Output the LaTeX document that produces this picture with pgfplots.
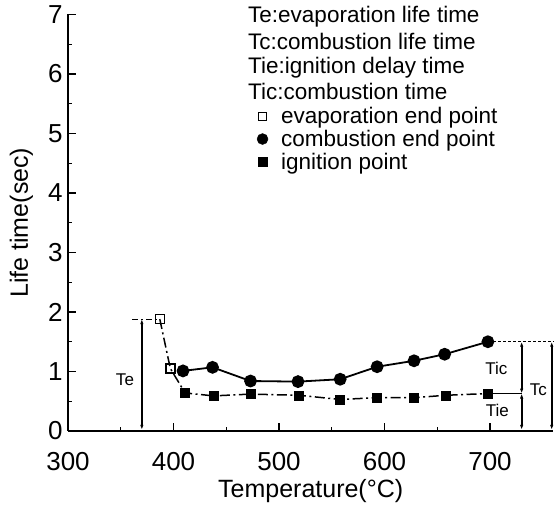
\documentclass[border=0pt]{standalone}
\usepackage{pgfplots}
\pgfplotsset{compat=1.18}
\usepackage{fontspec}
\setmainfont{Liberation Sans}
\usetikzlibrary{arrows.meta}
\begin{document}
\begin{tikzpicture}
\begin{axis}[
 anchor=origin, at={(0,0)},
 x=1.055pt, y=59.5pt,
 xmin=300, xmax=760, ymin=0, ymax=7,
 axis lines=left,
 axis line style={line width=1.8pt, -},
 tick align=inside,
 xtick={300,400,...,700}, ytick={0,1,...,7},
 minor xtick={350,450,550,650},
 minor ytick={0.5,1.5,...,6.5},
 major tick length=8pt, minor tick length=4pt,
 every tick/.style={line width=1.1pt, black},
 /pgf/number format/assume math mode=true,
 ticklabel style={font=\fontsize{26}{26}\selectfont},
 xticklabel style={yshift=-18pt},
 yticklabel style={xshift=-2pt},
 xlabel={Temperature(\textdegree C)},
 ylabel={Life time(sec)},
 label style={font=\fontsize{25}{25}\selectfont},
 xlabel style={yshift=-2pt},
 ylabel style={yshift=8pt},
 clip=false,
 legend style={at={(axis cs:479,5.46)}, anchor=north west, draw=none, fill=none,
   font=\fontsize{22.5}{24}\selectfont, row sep=3pt, inner sep=0pt,
   nodes={inner sep=1pt}},
 legend cell align=left,
 legend image code/.code={\draw[#1] plot coordinates {(0pt,0pt)};},
 /tikz/every odd column/.append style={column sep=12pt},
]
% dash-dot line through evaporation and ignition points
\addplot[forget plot, black, line width=1.5pt, dash pattern=on 10pt off 3.5pt on 2pt off 3.5pt, mark=none]
 coordinates {(387,1.88) (397,1.05) (411,0.64) (438,0.59) (473,0.62) (519,0.60) (558,0.53) (593,0.56) (628,0.56) (658,0.60) (698,0.63)};
% combustion end points
\addplot[forget plot, black, line width=1.8pt, mark=*, mark size=5.5pt]
 coordinates {(409,1.01) (437,1.07) (473,0.84) (518,0.83) (558,0.87) (593,1.08) (628,1.18) (657,1.29) (698,1.50)};
% ignition points
\addplot[forget plot, black, only marks, mark=square*, mark size=4.5pt]
 coordinates {(411,0.64) (438,0.59) (473,0.62) (519,0.60) (558,0.53) (593,0.56) (628,0.56) (658,0.60) (698,0.63)};
% evaporation end points
\addplot[forget plot, black, only marks, mark=square, mark size=4.5pt, line width=1.4pt, mark options={fill=white}]
 coordinates {(387,1.88) (397,1.05)};

\addlegendimage{black, only marks, mark=square, mark size=3.8pt, line width=0.9pt}
\addlegendentry{evaporation end point}
\addlegendimage{black, only marks, mark=*, mark size=5.5pt}
\addlegendentry{combustion end point}
\addlegendimage{black, only marks, mark=square*, mark size=4.8pt}
\addlegendentry{ignition point}

% text block
\begin{scope}[every node/.style={anchor=west, inner sep=0pt, font=\fontsize{22.5}{24}\selectfont}]
\node at (axis cs:470.6,6.96) {Te:evaporation life time};
\node at (axis cs:470.6,6.54) {Tc:combustion life time};
\node at (axis cs:470.6,6.10) {Tie:ignition delay time};
\node at (axis cs:470.6,5.70) {Tic:combustion time};
\end{scope}

% Te annotation
\draw[black, line width=1.2pt, dash pattern=on 6pt off 3pt on 2pt off 3pt] (axis cs:361,1.88) -- (axis cs:384,1.88);
\draw[black, line width=1.7pt, {Latex[length=5pt,width=3.5pt]}-{Latex[length=5pt,width=3.5pt]}] (axis cs:370,0.02) -- (axis cs:370,1.88);
\node[font=\fontsize{17}{17}\selectfont] at (axis cs:354,0.86) {Te};

% right annotations
\draw[black, line width=1pt, dash pattern=on 3pt off 2pt] (axis cs:703,1.5) -- (axis cs:760,1.5);
\draw[black, line width=1pt] (axis cs:703,0.63) -- (axis cs:730,0.63);
\draw[black, line width=1.7pt, {Latex[length=5pt,width=3.5pt]}-{Latex[length=5pt,width=3.5pt]}] (axis cs:730,0.02) -- (axis cs:730,0.63);
\draw[black, line width=1.7pt, {Latex[length=5pt,width=3.5pt]}-{Latex[length=5pt,width=3.5pt]}] (axis cs:730,0.63) -- (axis cs:730,1.5);
\draw[black, line width=1.7pt, {Latex[length=5pt,width=3.5pt]}-{Latex[length=5pt,width=3.5pt]}] (axis cs:758.5,0.02) -- (axis cs:758.5,1.5);
\node[font=\fontsize{17}{17}\selectfont] at (axis cs:706,1.06) {Tic};
\node[font=\fontsize{17}{17}\selectfont] at (axis cs:707,0.34) {Tie};
\node[font=\fontsize{17}{17}\selectfont] at (axis cs:745.8,0.70) {Tc};
\end{axis}
\pgfresetboundingbox
\path (-68pt,-77pt) rectangle (486pt,431pt);
\end{tikzpicture}
\end{document}
